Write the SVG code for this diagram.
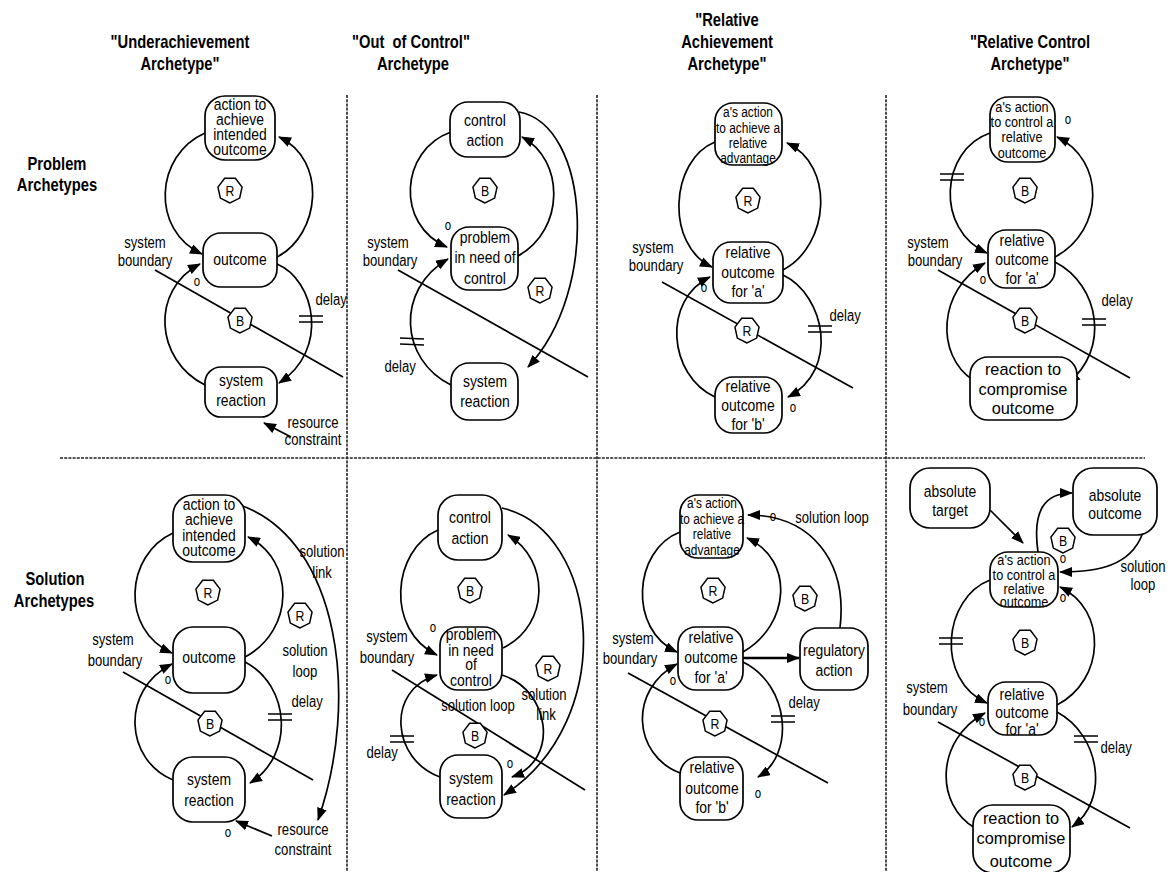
<svg xmlns="http://www.w3.org/2000/svg" width="1172" height="872" viewBox="0 0 1172 872">
<defs>
<style>
text{font-family:"Liberation Sans",Arial,sans-serif;fill:#000;text-anchor:middle;transform-box:fill-box;transform-origin:center;transform:scaleX(0.82)}
.h{font-size:18px;font-weight:bold}
.t{font-size:17px}
.w{transform:scaleX(0.96)}
.s{font-size:14.5px}
.s2{font-size:15.5px}
.l{font-size:16px}
.o{font-size:14px}
.k{font-size:15px}
.box{fill:#fff;stroke:#000;stroke-width:1.7}
.hep{fill:#fff;stroke:#000;stroke-width:1.5}
.c{fill:none;stroke:#000;stroke-width:1.7}
.a{marker-end:url(#ah)}
.d{stroke:#000;stroke-width:1.6}
.sep{fill:none;stroke:#222;stroke-width:1.6;stroke-dasharray:3 1.2}
</style>
<marker id="ah" markerUnits="userSpaceOnUse" viewBox="0 0 13 10" markerWidth="13" markerHeight="10" refX="12" refY="5" orient="auto"><path d="M0,0 L13,5 L0,10 z" fill="#000"/></marker>
<polygon id="hep" class="hep" points="0,13 -9.66,8.1 -12.04,-2.9 -5.36,-11.7 5.36,-11.7 12.04,-2.9 9.66,8.1"/>
</defs>
<rect width="1172" height="872" fill="#fff"/>

<!-- panel separators -->
<g id="separators">
<path class="sep" d="M60,458 H1145"/>
<path class="sep" d="M347,95 V872"/>
<path class="sep" d="M597,95 V872"/>
<path class="sep" d="M886,95 V872"/>
</g>

<!-- column and row titles -->
<g id="headers">
<text class="h" x="180" y="48">"Underachievement</text>
<text class="h" x="180" y="70">Archetype"</text>
<text class="h" x="411" y="48" style="white-space:pre">"Out  of Control"</text>
<text class="h" x="413" y="70">Archetype</text>
<text class="h" x="727" y="26">"Relative</text>
<text class="h" x="727" y="48">Achievement</text>
<text class="h" x="727" y="70">Archetype"</text>
<text class="h" x="1030" y="48">"Relative Control</text>
<text class="h" x="1030" y="70">Archetype"</text>
<text class="h" x="57" y="170">Problem</text>
<text class="h" x="57" y="191">Archetypes</text>
<text class="h" x="55" y="585">Solution</text>
<text class="h" x="54" y="607">Archetypes</text>
</g>

<!-- causal links, system boundaries and delay marks -->
<g id="connectors">
<!-- row 1, underachievement -->
<path class="c a" d="M205,133 C155,155 150,230 202,254"/>
<path class="c a" d="M277,257 C320,235 328,160 279,137"/>
<path class="c a" d="M277,264 C315,280 330,350 279,383"/>
<path class="c a" d="M205,385 C155,360 150,290 200,264"/>
<path class="c a" d="M291,437 L264,423"/>
<path class="c" d="M155,270 L343,377"/>
<path class="d" d="M299,316 L323,316 M299,322 L323,322"/>
<!-- row 1, out of control -->
<path class="c a" d="M451,132 C400,150 395,225 447,247"/>
<path class="c a" d="M518,256 C565,230 565,160 522,137"/>
<path class="c a" d="M519,112 C590,125 600,290 528,367"/>
<path class="c a" d="M451,385 C400,360 395,290 448,259"/>
<path class="c" d="M398,270 L588,377"/>
<path class="d" d="M400,338 L424,339 M400,344 L424,345"/>
<!-- row 1, relative achievement -->
<path class="c a" d="M715,142 C670,160 665,245 712,267"/>
<path class="c a" d="M783,270 C830,245 835,165 787,143"/>
<path class="c a" d="M783,275 C825,295 840,370 788,397"/>
<path class="c a" d="M715,397 C668,375 662,300 710,277"/>
<path class="c" d="M662,282 L853,388"/>
<path class="d" d="M808,326 L832,326 M808,332 L832,332"/>
<!-- row 1, relative control -->
<path class="c a" d="M990,133 C940,150 935,230 987,253"/>
<path class="c a" d="M1055,257 C1105,230 1105,160 1057,137"/>
<path class="c a" d="M1055,262 C1100,285 1110,350 1068,383"/>
<path class="c a" d="M973,380 C935,355 938,290 985,263"/>
<path class="c" d="M938,270 L1130,378"/>
<path class="d" d="M940,174 L964,174 M940,180 L964,180"/>
<path class="d" d="M1082,319 L1106,319 M1082,325 L1106,325"/>
<!-- row 2, underachievement -->
<path class="c a" d="M173,533 C125,555 120,630 172,653"/>
<path class="c a" d="M245,657 C295,630 295,560 248,537"/>
<path class="c a" d="M245,662 C290,685 295,755 250,783"/>
<path class="c a" d="M173,780 C125,760 120,690 172,664"/>
<path class="c a" d="M240,505 C340,540 360,700 318,820"/>
<path class="c a" d="M272,836 L236,821"/>
<path class="c" d="M123,672 L313,780"/>
<path class="d" d="M268,714 L292,714 M268,720 L292,720"/>
<!-- row 2, out of control -->
<path class="c a" d="M438,530 C392,550 385,630 437,655"/>
<path class="c a" d="M503,648 C550,625 550,560 508,535"/>
<path class="c a" d="M502,508 C600,530 620,720 504,795"/>
<path class="c a" d="M440,777 C392,760 385,690 437,675"/>
<path class="c a" d="M502,675 C550,690 560,760 512,777"/>
<path class="c" d="M392,670 L585,790"/>
<path class="d" d="M390,736 L414,736 M390,742 L414,742"/>
<!-- row 2, relative achievement -->
<path class="c a" d="M680,532 C633,550 628,630 677,652"/>
<path class="c a" d="M743,652 C790,625 795,560 747,538"/>
<path class="c a" d="M743,662 C790,685 795,755 758,777"/>
<path class="c a" d="M680,773 C633,755 628,690 677,664"/>
<path class="c a" d="M840,628 C848,560 810,515 748,515"/>
<path class="c a" d="M743,658 L799,658" style="stroke-width:2.4"/>
<path class="c" d="M628,673 L828,783"/>
<path class="d" d="M771,716 L795,716 M771,722 L795,722"/>
<!-- row 2, relative control -->
<path class="c a" d="M990,510 L1023,543"/>
<path class="c a" d="M1038,552 C1032,510 1045,493 1072,493"/>
<path class="c a" d="M1142,535 C1130,565 1100,572 1060,572"/>
<path class="c a" d="M990,580 C943,598 935,680 987,703"/>
<path class="c a" d="M1057,705 C1105,680 1108,610 1060,587"/>
<path class="c a" d="M1057,712 C1100,735 1110,800 1072,827"/>
<path class="c a" d="M975,828 C935,805 935,740 985,713"/>
<path class="c" d="M938,722 L1130,828"/>
<path class="d" d="M939,638 L963,638 M939,644 L963,644"/>
<path class="d" d="M1074,736 L1098,736 M1074,742 L1098,742"/>
</g>

<!-- row 1, underachievement -->
<g id="r1c1-action"><rect class="box" x="205" y="96" width="70" height="64" rx="20"/>
<text class="t" x="240" y="110">action to</text><text class="t" x="240" y="125">achieve</text><text class="t" x="240" y="140">intended</text><text class="t" x="240" y="155">outcome</text></g>
<g id="r1c1-outcome"><rect class="box" x="203" y="233" width="74" height="54" rx="18"/>
<text class="t" x="240" y="265">outcome</text></g>
<g id="r1c1-reaction"><rect class="box" x="205" y="367" width="72" height="50" rx="16"/>
<text class="t" x="241" y="386">system</text><text class="t" x="241" y="406">reaction</text></g>
<g id="r1c1-loop-r"><use href="#hep" x="230" y="190"/><text class="k" x="230" y="196">R</text></g>
<g id="r1c1-loop-b"><use href="#hep" x="240" y="320"/><text class="k" x="240" y="326">B</text></g>

<!-- row 1, out of control -->
<g id="r1c2-control"><rect class="box" x="450" y="102" width="70" height="55" rx="18"/>
<text class="t" x="485" y="126">control</text><text class="t" x="485" y="146">action</text></g>
<g id="r1c2-problem"><rect class="box" x="451" y="227" width="67" height="63" rx="18"/>
<text class="t" x="485" y="243">problem</text><text class="t" x="485" y="263">in need of</text><text class="t" x="485" y="284">control</text></g>
<g id="r1c2-reaction"><rect class="box" x="451" y="363" width="67" height="57" rx="18"/>
<text class="t" x="485" y="387">system</text><text class="t" x="485" y="407">reaction</text></g>
<g id="r1c2-loop-b"><use href="#hep" x="485" y="190"/><text class="k" x="485" y="196">B</text></g>
<g id="r1c2-loop-r"><use href="#hep" x="540" y="290"/><text class="k" x="540" y="296">R</text></g>

<!-- row 1, relative achievement -->
<g id="r1c3-action"><rect class="box" x="715" y="103" width="67" height="62" rx="18"/>
<text class="s" x="748" y="117">a's action</text><text class="s" x="748" y="133">to achieve a</text><text class="s" x="748" y="148">relative</text><text class="s" x="748" y="163">advantage</text></g>
<g id="r1c3-outcome-a"><rect class="box" x="713" y="242" width="70" height="61" rx="18"/>
<text class="t" x="748" y="258">relative</text><text class="t" x="748" y="278">outcome</text><text class="t" x="748" y="297">for 'a'</text></g>
<g id="r1c3-outcome-b"><rect class="box" x="715" y="377" width="67" height="56" rx="18"/>
<text class="t" x="748" y="392">relative</text><text class="t" x="748" y="411">outcome</text><text class="t" x="748" y="430">for 'b'</text></g>
<g id="r1c3-loop-r1"><use href="#hep" x="748" y="200"/><text class="k" x="748" y="206">R</text></g>
<g id="r1c3-loop-r2"><use href="#hep" x="747" y="330"/><text class="k" x="747" y="336">R</text></g>

<!-- row 1, relative control -->
<g id="r1c4-action"><rect class="box" x="990" y="97" width="65" height="65" rx="18"/>
<text class="s2" x="1022" y="112">a's action</text><text class="s2" x="1022" y="127">to control a</text><text class="s2" x="1022" y="142">relative</text><text class="s2" x="1022" y="158">outcome</text></g>
<g id="r1c4-outcome-a"><rect class="box" x="988" y="230" width="67" height="58" rx="18"/>
<text class="t" x="1022" y="246">relative</text><text class="t" x="1022" y="265">outcome</text><text class="t" x="1022" y="284">for 'a'</text></g>
<g id="r1c4-reaction"><rect class="box" x="970" y="357" width="107" height="63" rx="18"/>
<text class="t w" x="1023" y="375">reaction to</text><text class="t w" x="1023" y="395">compromise</text><text class="t w" x="1023" y="414">outcome</text></g>
<g id="r1c4-loop-b1"><use href="#hep" x="1025" y="190"/><text class="k" x="1025" y="196">B</text></g>
<g id="r1c4-loop-b2"><use href="#hep" x="1025" y="320"/><text class="k" x="1025" y="326">B</text></g>

<!-- row 2, underachievement -->
<g id="r2c1-action"><rect class="box" x="173" y="495" width="72" height="67" rx="20"/>
<text class="t" x="209" y="510">action to</text><text class="t" x="209" y="525">achieve</text><text class="t" x="209" y="541">intended</text><text class="t" x="209" y="556">outcome</text></g>
<g id="r2c1-outcome"><rect class="box" x="173" y="627" width="72" height="66" rx="20"/>
<text class="t" x="209" y="663">outcome</text></g>
<g id="r2c1-reaction"><rect class="box" x="173" y="757" width="72" height="65" rx="20"/>
<text class="t" x="209" y="785">system</text><text class="t" x="209" y="806">reaction</text></g>
<g id="r2c1-loop-r1"><use href="#hep" x="208" y="592"/><text class="k" x="208" y="598">R</text></g>
<g id="r2c1-loop-r2"><use href="#hep" x="300" y="615"/><text class="k" x="300" y="621">R</text></g>
<g id="r2c1-loop-b"><use href="#hep" x="210" y="723"/><text class="k" x="210" y="729">B</text></g>

<!-- row 2, out of control -->
<g id="r2c2-control"><rect class="box" x="438" y="495" width="64" height="65" rx="20"/>
<text class="t" x="470" y="523">control</text><text class="t" x="470" y="544">action</text></g>
<g id="r2c2-problem"><rect class="box" x="440" y="627" width="62" height="63" rx="18"/>
<text class="t" x="471" y="640">problem</text><text class="t" x="471" y="656">in need</text><text class="t" x="471" y="670">of</text><text class="t" x="471" y="686">control</text></g>
<g id="r2c2-reaction"><rect class="box" x="440" y="755" width="62" height="63" rx="18"/>
<text class="t" x="471" y="784">system</text><text class="t" x="471" y="805">reaction</text></g>
<g id="r2c2-loop-b1"><use href="#hep" x="470" y="590"/><text class="k" x="470" y="596">B</text></g>
<g id="r2c2-loop-r"><use href="#hep" x="548" y="668"/><text class="k" x="548" y="674">R</text></g>
<g id="r2c2-loop-b2"><use href="#hep" x="475" y="735"/><text class="k" x="475" y="741">B</text></g>

<!-- row 2, relative achievement -->
<g id="r2c3-action"><rect class="box" x="680" y="495" width="63" height="63" rx="18"/>
<text class="s" x="712" y="508">a's action</text><text class="s" x="712" y="524">to achieve a</text><text class="s" x="712" y="539">relative</text><text class="s" x="712" y="555">advantage</text></g>
<g id="r2c3-outcome-a"><rect class="box" x="678" y="627" width="65" height="63" rx="18"/>
<text class="t" x="711" y="643">relative</text><text class="t" x="711" y="663">outcome</text><text class="t" x="711" y="683">for 'a'</text></g>
<g id="r2c3-regulatory"><rect class="box" x="800" y="628" width="68" height="62" rx="18"/>
<text class="t" x="834" y="656">regulatory</text><text class="t" x="834" y="676">action</text></g>
<g id="r2c3-outcome-b"><rect class="box" x="680" y="757" width="63" height="63" rx="18"/>
<text class="t" x="712" y="773">relative</text><text class="t" x="712" y="794">outcome</text><text class="t" x="712" y="813">for 'b'</text></g>
<g id="r2c3-loop-r1"><use href="#hep" x="713" y="590"/><text class="k" x="713" y="596">R</text></g>
<g id="r2c3-loop-b"><use href="#hep" x="805" y="598"/><text class="k" x="805" y="604">B</text></g>
<g id="r2c3-loop-r2"><use href="#hep" x="715" y="723"/><text class="k" x="715" y="729">R</text></g>

<!-- row 2, relative control -->
<g id="r2c4-target"><rect class="box" x="910" y="468" width="80" height="60" rx="20"/>
<text class="t" x="950" y="497">absolute</text><text class="t" x="950" y="516">target</text></g>
<g id="r2c4-absolute"><rect class="box" x="1073" y="468" width="84" height="67" rx="20"/>
<text class="t" x="1115" y="501">absolute</text><text class="t" x="1115" y="519">outcome</text></g>
<g id="r2c4-action"><rect class="box" x="990" y="552" width="68" height="55" rx="18"/>
<text class="s2" x="1024" y="565">a's action</text><text class="s2" x="1024" y="580">to control a</text><text class="s2" x="1024" y="594">relative</text><text class="s2" x="1024" y="607">outcome</text></g>
<g id="r2c4-outcome-a"><rect class="box" x="988" y="682" width="69" height="53" rx="18"/>
<text class="t" x="1022" y="700">relative</text><text class="t" x="1022" y="718">outcome</text><text class="t" x="1022" y="735">for 'a'</text></g>
<g id="r2c4-reaction"><rect class="box" x="973" y="805" width="97" height="68" rx="20"/>
<text class="t w" x="1021" y="824">reaction to</text><text class="t w" x="1021" y="844">compromise</text><text class="t w" x="1021" y="867">outcome</text></g>
<g id="r2c4-loop-b1"><use href="#hep" x="1063" y="540"/><text class="k" x="1063" y="546">B</text></g>
<g id="r2c4-loop-b2"><use href="#hep" x="1025" y="642"/><text class="k" x="1025" y="648">B</text></g>
<g id="r2c4-loop-b3"><use href="#hep" x="1025" y="777"/><text class="k" x="1025" y="783">B</text></g>

<!-- annotations -->
<g id="labels">
<text class="l" x="145" y="248">system</text><text class="l" x="145" y="266">boundary</text>
<text class="o" x="197" y="286">o</text>
<text class="l" x="331" y="305">delay</text>
<text class="l" x="313" y="428">resource</text><text class="l" x="313" y="445">constraint</text>

<text class="l" x="388" y="248">system</text><text class="l" x="390" y="266">boundary</text>
<text class="o" x="448" y="230">o</text>
<text class="l" x="400" y="372">delay</text>

<text class="l" x="653" y="253">system</text><text class="l" x="656" y="271">boundary</text>
<text class="o" x="704" y="292">o</text>
<text class="l" x="845" y="321">delay</text>
<text class="o" x="793" y="412">o</text>

<text class="l" x="928" y="248">system</text><text class="l" x="935" y="266">boundary</text>
<text class="o" x="1068" y="124">o</text>
<text class="o" x="983" y="284">o</text>
<text class="l" x="1117" y="306">delay</text>

<text class="l" x="322" y="557">solution</text><text class="l" x="322" y="578">link</text>
<text class="l" x="305" y="656">solution</text><text class="l" x="305" y="677">loop</text>
<text class="l" x="307" y="707">delay</text>
<text class="l" x="113" y="645">system</text><text class="l" x="115" y="666">boundary</text>
<text class="o" x="168" y="684">o</text>
<text class="o" x="228" y="837">o</text>
<text class="l" x="303" y="835">resource</text><text class="l" x="303" y="855">constraint</text>

<text class="l" x="387" y="642">system</text><text class="l" x="387" y="663">boundary</text>
<text class="o" x="433" y="632">o</text>
<text class="l" x="478" y="711">solution loop</text>
<text class="l" x="544" y="700">solution</text><text class="l" x="546" y="720">link</text>
<text class="l" x="382" y="758">delay</text>
<text class="o" x="510" y="768">o</text>

<text class="l" x="633" y="644">system</text><text class="l" x="630" y="664">boundary</text>
<text class="o" x="773" y="521">o</text>
<text class="l" x="832" y="523">solution loop</text>
<text class="o" x="673" y="685">o</text>
<text class="l" x="804" y="708">delay</text>
<text class="o" x="758" y="798">o</text>

<text class="l" x="927" y="693">system</text><text class="l" x="930" y="715">boundary</text>
<text class="o" x="1063" y="563">o</text>
<text class="o" x="1063" y="602">o</text>
<text class="l" x="1143" y="572">solution</text><text class="l" x="1143" y="590">loop</text>
<text class="o" x="982" y="726">o</text>
<text class="l" x="1116" y="753">delay</text>
</g>
</svg>
